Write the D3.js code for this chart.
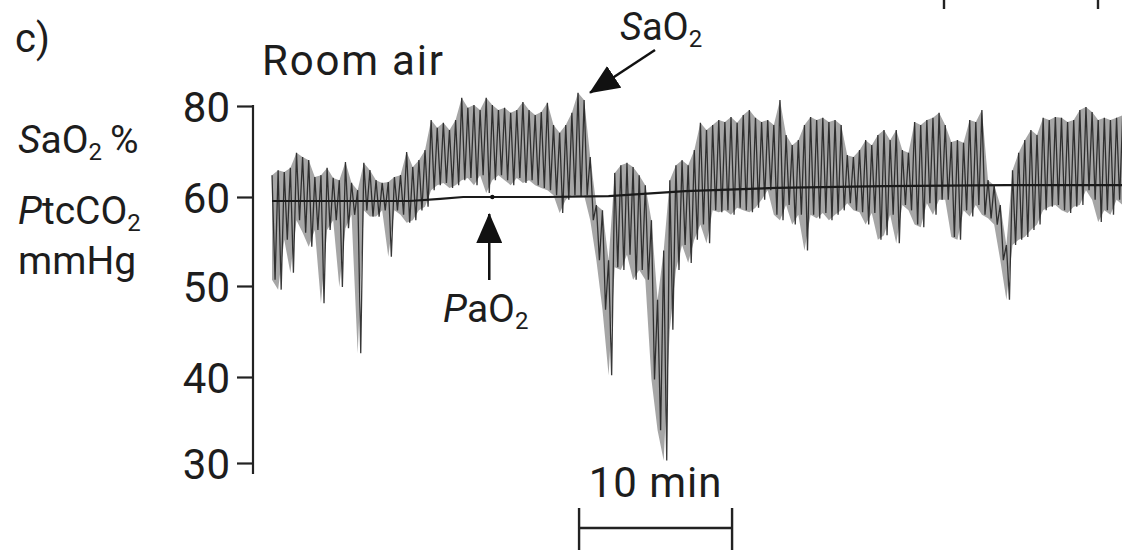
<!DOCTYPE html>
<html>
<head>
<meta charset="utf-8">
<style>
  body { margin: 0; background: #fff; }
  text { font-family: Roboto, "Open Sans", sans-serif; fill: #1d1d1d; }
</style>
</head>
<body>
<svg id="chart" width="1122" height="550"></svg>
<script src="https://cdn.jsdelivr.net/npm/d3@7"></script>
<script>

// SaO2 trace envelope, one pair per 0.4 min (upper / lower excursion)
var sampleStep = 0.4;
var saHigh = [64.8,65.9,65.5,66.4,69.7,68.8,68.1,64.4,64.8,66.4,
	64.2,63.7,67.7,63.1,61.5,67.5,65.9,63.7,63.1,63.3,
	64.4,64.8,69.9,66.6,68.1,70.3,76.9,75.2,76.3,74.7,
	76.9,81.8,79.6,80.2,79.1,81.8,80.2,79.1,79.6,78.5,
	79.1,80.9,79.1,78.0,78.7,80.7,75.8,74.1,75.8,78.5,
	82.9,81.3,68.8,59.1,58.5,52.9,65.3,67.0,67.5,66.6,
	64.8,62.6,57.4,48.5,54.0,63.7,67.0,68.1,67.0,70.3,
	76.3,74.7,75.8,76.9,76.5,77.6,76.3,78.0,79.1,77.4,
	76.5,76.9,75.8,81.3,73.6,71.4,72.5,75.8,77.6,76.9,
	77.4,76.5,76.9,75.8,69.2,68.8,70.3,72.5,71.4,73.6,
	74.7,72.5,74.7,70.3,69.7,76.5,75.8,76.9,77.4,78.5,
	75.8,72.1,72.5,71.9,76.9,76.5,79.1,63.7,62.6,59.1,
	54.6,65.9,69.7,72.5,74.7,73.6,77.4,76.9,77.6,77.4,
	76.5,76.9,79.1,79.8,78.7,76.9,77.4,76.9,77.4,78.0];
var saLow = [50.7,49.6,55.2,51.5,57.4,56.0,54.4,56.3,48.1,56.3,
	57.4,49.9,56.5,58.0,42.6,58.5,57.8,57.8,58.5,53.3,
	58.5,58.0,57.1,57.4,58.5,58.9,61.5,62.6,63.1,62.0,
	62.6,63.7,64.2,62.6,64.8,60.9,63.7,64.8,63.7,62.6,
	64.2,63.1,63.7,62.6,62.0,61.5,60.4,58.2,59.7,60.4,
	60.0,60.4,57.4,52.9,47.4,40.2,52.1,51.8,53.5,50.7,
	51.8,50.7,39.7,33.8,30.3,45.2,51.8,54.6,52.6,55.2,
	56.9,54.8,58.5,58.3,58.5,58.0,58.8,58.5,58.3,58.8,
	59.7,61.5,58.0,57.4,59.1,56.9,58.0,54.0,58.0,57.6,
	58.2,57.4,58.0,58.5,59.3,58.5,58.3,56.9,58.2,55.2,
	55.7,58.0,54.8,59.1,58.5,56.9,56.6,59.3,58.0,59.7,
	59.7,55.5,55.2,58.5,57.8,59.1,58.0,57.6,56.9,52.9,
	48.5,54.6,55.2,55.5,56.3,56.9,58.5,58.9,59.1,58.5,
	58.2,58.9,59.1,61.5,59.7,57.2,58.5,58.0,59.7,59.1];

// PaO2 (slow trace)
var paTimes  = [0, 9, 11, 12.5, 18, 22, 27, 33, 40, 48, 55.6];
var paValues = [59.55, 59.55, 59.8, 60, 60, 60.2, 61.3, 62, 62.4, 62.6, 62.6];
var paSample = 14.4;   // arterial sample time, min

var yTicks = [30, 40, 50, 60, 80];
var scaleBarStart = 20.07, scaleBarMinutes = 10;

var svg = d3.select("#chart");

// y axis is not linear in the original (80 squeezed above 60)
var y = d3.scaleLinear().domain([30, 40, 50, 60, 80]).range([463, 377, 286, 197, 106]);
var x = d3.scaleLinear().domain([0, 10]).range([272, 425]);

//arrow marker
svg.append("defs").append("marker")
	.attr("id", "head").attr("markerUnits", "userSpaceOnUse")
	.attr("viewBox", "0 0 30 26").attr("markerWidth", 30).attr("markerHeight", 26)
	.attr("refX", 29).attr("refY", 13).attr("orient", "auto")
	.append("path").attr("d", "M0,0L30,13L0,26Z").attr("fill", "#111");

//y axis
var ax = svg.append("g").attr("transform", "translate(253,0)")
	.call(d3.axisLeft(y).tickValues(yTicks).tickSize(16).tickPadding(7).tickSizeOuter(0));
ax.select(".domain").remove();
ax.selectAll(".tick line").attr("stroke", "#222").attr("stroke-width", 2.2);
ax.selectAll(".tick text").style("font-size", "42px").attr("dy", "0.36em").attr("fill", "#1d1d1d");
ax.append("line").attr("x1", 0).attr("x2", 0)
	.attr("y1", y(80) - 1).attr("y2", y(30) + 11)
	.attr("stroke", "#222").attr("stroke-width", 2.2);

//SaO2 trace
var idx = d3.range(saHigh.length);
svg.append("path").datum(idx)
	.attr("d", d3.area().x(function(i) { return x(i * sampleStep); })
		.y0(function(i) { return y(saLow[i]); })
		.y1(function(i) { return y(saHigh[i]); }))
	.attr("fill", "#6a6a6a").attr("fill-opacity", 0.6);

var zig = [];
idx.forEach(function(i) {
	zig.push([i * sampleStep, saHigh[i]]);
	zig.push([i * sampleStep + sampleStep / 2, saLow[i]]);
});
svg.append("path").datum(zig)
	.attr("d", d3.line().x(function(d) { return x(d[0]); }).y(function(d) { return y(d[1]); }))
	.attr("fill", "none").attr("stroke", "#222").attr("stroke-width", 1.3)
	.attr("stroke-opacity", 0.9);

//PaO2 trace
svg.append("path").datum(d3.zip(paTimes, paValues))
	.attr("d", d3.line().x(function(d) { return x(d[0]); }).y(function(d) { return y(d[1]); }))
	.attr("fill", "none").attr("stroke", "#1a1a1a").attr("stroke-width", 2.2);
svg.append("circle").attr("cx", x(paSample)).attr("cy", y(60)).attr("r", 2.2).attr("fill", "#111");

//labels with sub/italic parts
function richText(px, py, size, parts, anchor) {
	var t = svg.append("text").attr("x", px).attr("y", py)
		.style("font-size", size + "px").attr("text-anchor", anchor || "start");
	var shift = 0;
	parts.forEach(function(p) {
		var s = t.append("tspan").text(p.t);
		if (p.i) s.style("font-style", "italic");
		if (p.sub) { s.style("font-size", Math.round(size * 0.62) + "px").attr("dy", size * 0.18); shift = size * 0.18; }
		else if (shift) { s.attr("dy", -shift); shift = 0; }
	});
	return t;
}

richText(15, 52, 40, [{t: "c)"}]);
richText(262, 75, 42, [{t: "Room air"}]).attr("letter-spacing", 1.8);
richText(18, 153, 39, [{t: "S", i: 1}, {t: "aO"}, {t: "2", sub: 1}, {t: "\u2009%"}]);
richText(18, 224, 39, [{t: "P", i: 1}, {t: "tcCO"}, {t: "2", sub: 1}]);
richText(18, 274, 39, [{t: "mmHg"}]);

//annotations
richText(620, 40, 38, [{t: "S", i: 1}, {t: "aO"}, {t: "2", sub: 1}]);
svg.append("line").attr("x1", 655).attr("y1", 50).attr("x2", x(20) + 12).attr("y2", y(82.9))
	.attr("stroke", "#111").attr("stroke-width", 2.5).attr("marker-end", "url(#head)");

richText(443, 322, 39, [{t: "P", i: 1}, {t: "aO"}, {t: "2", sub: 1}]);
svg.append("line").attr("x1", x(14.2)).attr("y1", 280).attr("x2", x(14.2)).attr("y2", 214)
	.attr("stroke", "#111").attr("stroke-width", 2.5).attr("marker-end", "url(#head)");

//scale bar
var x0 = x(scaleBarStart), x1 = x(scaleBarStart + scaleBarMinutes);
svg.append("text").attr("x", (x0 + x1) / 2).attr("y", 497).attr("text-anchor", "middle")
	.style("font-size", "42px").attr("letter-spacing", 1).text("10 min");
svg.append("path")
	.attr("d", "M" + x0 + ",508V550M" + x0 + ",528H" + x1 + "M" + x1 + ",508V550")
	.attr("fill", "none").attr("stroke", "#222").attr("stroke-width", 2.4);

//remnants of the panel above
svg.selectAll(".rem").data([944, 1098]).enter().append("line")
	.attr("x1", function(d) { return d; }).attr("x2", function(d) { return d; })
	.attr("y1", 0).attr("y2", 9).attr("stroke", "#222").attr("stroke-width", 2.4);

</script>
</body>
</html>
